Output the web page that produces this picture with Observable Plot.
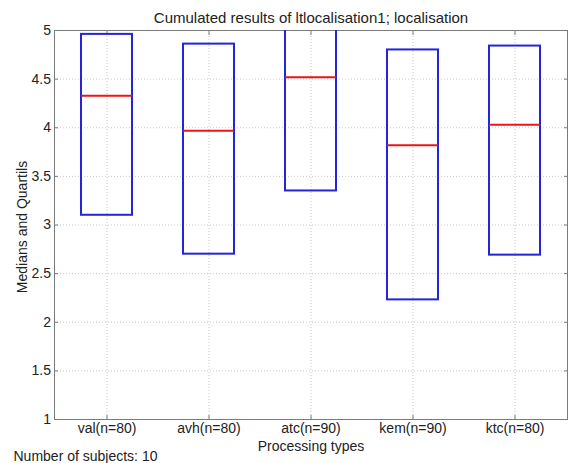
<!DOCTYPE html>
<html><head><meta charset="utf-8">
<script src="https://cdn.jsdelivr.net/npm/d3@7"></script>
<script src="https://cdn.jsdelivr.net/npm/@observablehq/plot@0.6"></script>
<style>body{margin:0;background:#fff}</style>
</head><body><div id="chart"></div>
<script>
const categories = ["val(n=80)", "avh(n=80)", "atc(n=90)", "kem(n=90)", "ktc(n=80)"];
const q1 = [3.10, 2.70, 3.35, 2.23, 2.69];
const medians = [4.33, 3.97, 4.52, 3.82, 4.03];
const q3 = [4.96, 4.86, 5.2, 4.80, 4.84];
const yTicks = [1, 1.5, 2, 2.5, 3, 3.5, 4, 4.5, 5];
const title = "Cumulated results of ltlocalisation1; localisation";
const xLabel = "Processing types";
const yLabel = "Medians and Quartils";
const caption = "Number of subjects: 10";

const data = categories.map((c, i) => ({cat: c, q1: q1[i], med: medians[i], q3: q3[i]}));
const gridColor = "#c8c8c8";
const fs = 14;

const chart = Plot.plot({
  width: 570, height: 463,
  marginTop: 30, marginBottom: 44, marginLeft: 54, marginRight: 3,
  style: {fontFamily: "'Liberation Sans', Arial, sans-serif", fontSize: "14px", background: "white", color: "#222"},
  x: {domain: categories, paddingInner: 0.5, paddingOuter: 0.25},
  y: {domain: [1, 5]},
  marks: [
    Plot.gridY(yTicks, {stroke: gridColor, strokeOpacity: 1, strokeDasharray: "1,2"}),
    Plot.gridX(categories, {stroke: gridColor, strokeOpacity: 1, strokeDasharray: "1,2"}),
    Plot.frame({stroke: "#7a7a7a"}),
    Plot.axisY(yTicks, {anchor: "left", tickSize: -4, tickPadding: 7.5, tickFormat: d => String(d), label: null, stroke: "#7a7a7a", fontSize: fs}),
    Plot.axisY(yTicks, {anchor: "right", tickSize: -4, tickFormat: () => "", label: null, stroke: "#7a7a7a"}),
    Plot.axisX(categories, {anchor: "bottom", tickSize: -4, tickPadding: 8, label: null, stroke: "#7a7a7a", fontSize: fs}),
    Plot.axisX(categories, {anchor: "top", tickSize: -4, tickFormat: () => "", label: null, stroke: "#7a7a7a"}),
    Plot.barY(data, {x: "cat", y1: "q1", y2: "q3", fill: "none", stroke: "#2424d8", strokeWidth: 2, clip: true}),
    Plot.tickY(data, {x: "cat", y: "med", stroke: "#f01414", strokeWidth: 2}),
    Plot.text([title], {frameAnchor: "middle", dy: -207, lineAnchor: "middle", textAnchor: "middle", fontSize: 15}),
    Plot.text([xLabel], {frameAnchor: "middle", dy: 222, lineAnchor: "middle", textAnchor: "middle", fontSize: fs}),
    Plot.text([yLabel], {frameAnchor: "middle", dx: -288, dy: 2, rotate: -90, lineAnchor: "middle", textAnchor: "middle", fontSize: fs}),
    Plot.text([caption], {frameAnchor: "bottom-left", dx: -41, dy: 37, lineAnchor: "middle", textAnchor: "start", fontSize: fs})
  ]
});
document.getElementById("chart").append(chart);
</script>
</body></html>
